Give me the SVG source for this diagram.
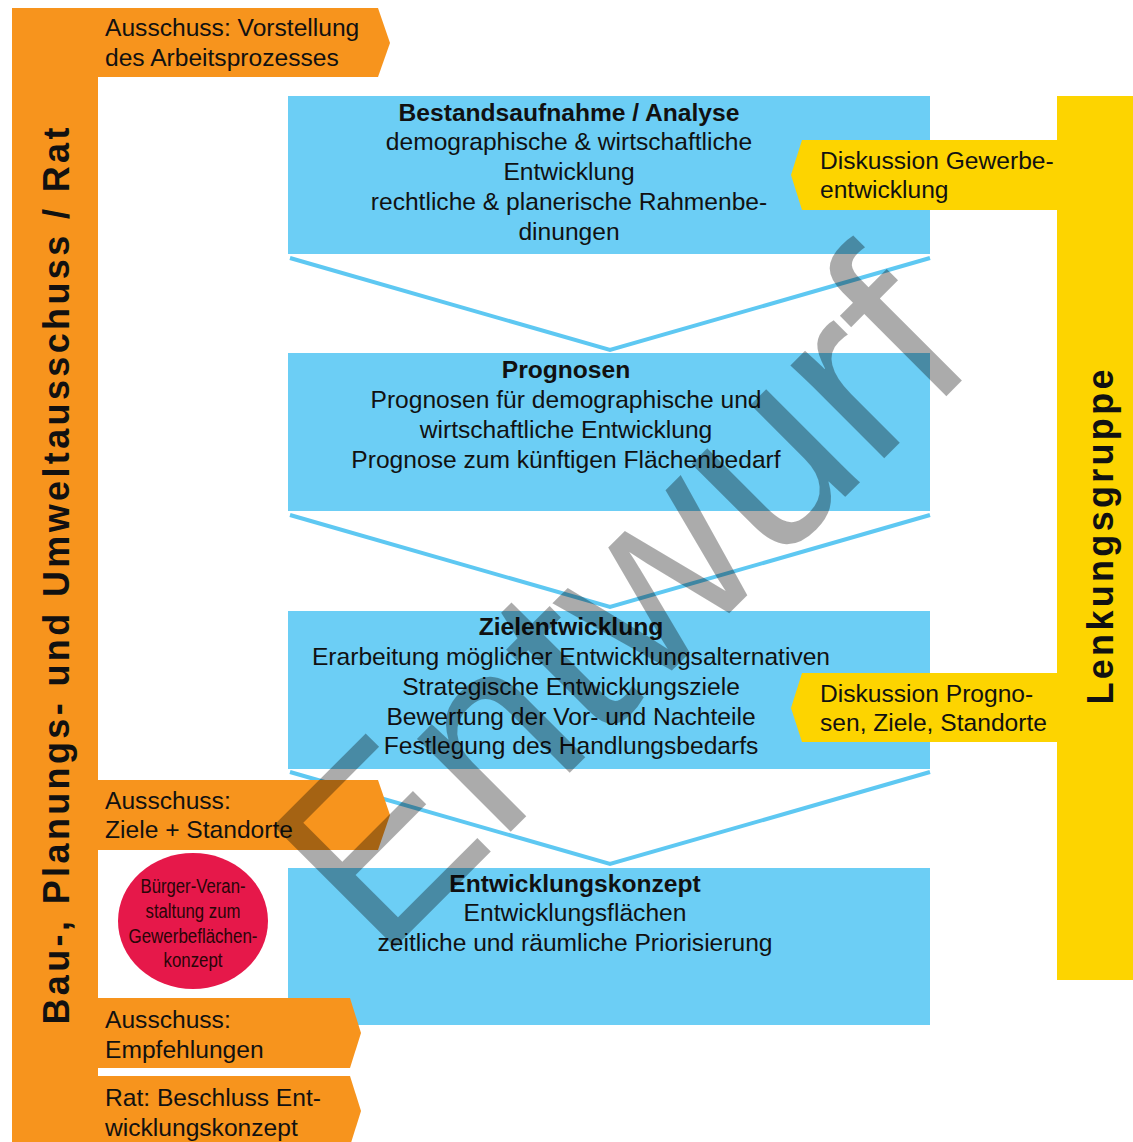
<svg xmlns="http://www.w3.org/2000/svg" width="1133" height="1142" viewBox="0 0 1133 1142">
<style>
.box{fill:#6ccef5}
.or{fill:#f7941d}
.ye{fill:#fdd400}
.t{font-family:"Liberation Sans",Arial,sans-serif;font-size:24.6px;fill:#111}
.c{text-anchor:middle}
.b{font-weight:bold}
.v{fill:none;stroke:#5ec8f2;stroke-width:4;stroke-linejoin:miter}
.side{font-family:"Liberation Sans",Arial,sans-serif;font-size:36px;font-weight:bold;fill:#111}
.circ{font-family:"Liberation Sans Narrow","Liberation Sans",Arial,sans-serif;font-size:20px;fill:#2a0508;text-anchor:middle}
</style>
<rect width="1133" height="1142" fill="#fff"/>

<g id="connectors">
<polyline class="v" points="290,258 610,350 930,258"/>
<polyline class="v" points="290,515 610,607 930,515"/>
<polyline class="v" points="290,772 610,864 930,772"/>
</g>

<g id="box1">
<rect class="box" x="288" y="96" width="642" height="158"/>
<text class="t c b" x="569" y="121">Bestandsaufnahme / Analyse</text>
<text class="t c" x="569" y="150">demographische &amp; wirtschaftliche</text>
<text class="t c" x="569" y="180">Entwicklung</text>
<text class="t c" x="569" y="210">rechtliche &amp; planerische Rahmenbe-</text>
<text class="t c" x="569" y="240">dinungen</text>
</g>

<g id="box2">
<rect class="box" x="288" y="353" width="642" height="158"/>
<text class="t c b" x="566" y="378">Prognosen</text>
<text class="t c" x="566" y="408">Prognosen für demographische und</text>
<text class="t c" x="566" y="438">wirtschaftliche Entwicklung</text>
<text class="t c" x="566" y="468">Prognose zum künftigen Flächenbedarf</text>
</g>

<g id="box3">
<rect class="box" x="288" y="611" width="642" height="158"/>
<text class="t c b" x="571" y="635">Zielentwicklung</text>
<text class="t c" x="571" y="665">Erarbeitung möglicher Entwicklungsalternativen</text>
<text class="t c" x="571" y="695">Strategische Entwicklungsziele</text>
<text class="t c" x="571" y="725">Bewertung der Vor- und Nachteile</text>
<text class="t c" x="571" y="754">Festlegung des Handlungsbedarfs</text>
</g>

<g id="box4">
<rect class="box" x="288" y="868" width="642" height="157"/>
<text class="t c b" x="575" y="892">Entwicklungskonzept</text>
<text class="t c" x="575" y="921">Entwicklungsflächen</text>
<text class="t c" x="575" y="951">zeitliche und räumliche Priorisierung</text>
</g>

<g id="lenkungsgruppe">
<rect class="ye" x="1057" y="96" width="76" height="884"/>
<text class="side c" transform="translate(1113,537) rotate(-90)" textLength="335" lengthAdjust="spacing">Lenkungsgruppe</text>
</g>

<g id="diskussion1">
<polygon class="ye" points="1057,140 802,140 791,175 802,210 1057,210"/>
<text class="t" x="820" y="169">Diskussion Gewerbe-</text>
<text class="t" x="820" y="198">entwicklung</text>
</g>

<g id="diskussion2">
<polygon class="ye" points="1057,673 802,673 791,708 802,742 1057,742"/>
<text class="t" x="820" y="702">Diskussion Progno-</text>
<text class="t" x="820" y="731">sen, Ziele, Standorte</text>
</g>

<g id="ausschuss-rat">
<rect class="or" x="12" y="8" width="86" height="1134"/>
<text class="side c" transform="translate(69,576) rotate(-90)" textLength="897" lengthAdjust="spacing">Bau-, Planungs- und Umweltausschuss / Rat</text>
</g>

<g id="vorstellung">
<polygon class="or" points="12,8 378,8 390,43 378,77 12,77"/>
<text class="t" x="105" y="36">Ausschuss: Vorstellung</text>
<text class="t" x="105" y="66">des Arbeitsprozesses</text>
</g>

<g id="ziele">
<polygon class="or" points="98,780 378,780 390,815 378,850 98,850"/>
<text class="t" x="105" y="809">Ausschuss:</text>
<text class="t" x="105" y="838">Ziele + Standorte</text>
</g>

<g id="buerger">
<ellipse cx="193" cy="921" rx="75" ry="68" fill="#e6184a"/>
<text class="circ" x="193" y="893" textLength="105" lengthAdjust="spacingAndGlyphs">Bürger-Veran-</text>
<text class="circ" x="193" y="918" textLength="95" lengthAdjust="spacingAndGlyphs">staltung zum</text>
<text class="circ" x="193" y="943" textLength="129" lengthAdjust="spacingAndGlyphs">Gewerbeflächen-</text>
<text class="circ" x="193" y="967" textLength="59" lengthAdjust="spacingAndGlyphs">konzept</text>
</g>

<g id="empfehlungen">
<polygon class="or" points="98,998 350,998 361,1033 350,1068 98,1068"/>
<text class="t" x="105" y="1028">Ausschuss:</text>
<text class="t" x="105" y="1058">Empfehlungen</text>
</g>

<g id="beschluss">
<polygon class="or" points="98,1076 350,1076 361,1111 350,1146 98,1146"/>
<text class="t" x="105" y="1106">Rat: Beschluss Ent-</text>
<text class="t" x="105" y="1136">wicklungskonzept</text>
</g>

<text transform="translate(618,600) rotate(-45)" x="0" y="88" text-anchor="middle" font-family="Liberation Sans,Arial,sans-serif" font-size="250" fill="#000" fill-opacity="0.33">Entwurf</text>
</svg>
